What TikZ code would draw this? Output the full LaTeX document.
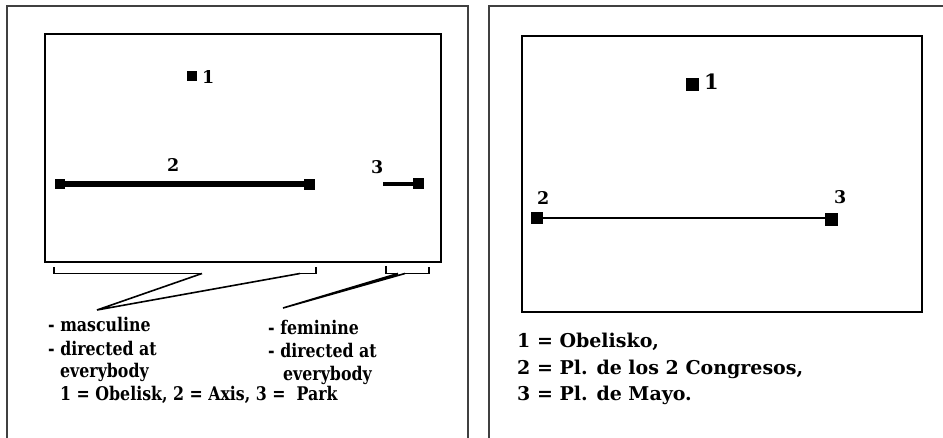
\documentclass[tikz,border=0pt]{standalone}
\usepackage{fontspec}
\setmainfont{DejaVu Serif}
\newfontfamily\narrowserif[FakeStretch=0.84]{DejaVu Serif}
\begin{document}
\begin{tikzpicture}[x=1pt,y=-1pt,
  frame/.style={draw=black!75,line width=1.1pt},
  mapbox/.style={draw=black,line width=2.8pt},
  sq/.style={fill=black,inner sep=0pt,minimum size=#1,shape=rectangle},
  txt/.style={anchor=base west,inner sep=0pt,font=\narrowserif\bfseries\fontsize{18.8}{22}\selectfont},
  rtxt/.style={anchor=base west,inner sep=0pt,font=\bfseries\fontsize{19}{22}\selectfont},
  lbl/.style={anchor=base west,inner sep=0pt,font=\bfseries\fontsize{17.5}{20}\selectfont},
  brk/.style={draw=black,line width=1.1pt},
  tail/.style={draw=black,line width=1.6pt}]
\useasboundingbox (0,0) rectangle (943,438);
\fill[white] (0,0) rectangle (943,438);
% outer frames
\draw[frame] (7,438) -- (7,6) -- (468,6) -- (468,438);
\draw[frame] (489,438) -- (489,6) -- (950,6);
% ---------- left panel ----------
\draw[mapbox] (45,34) rectangle (441,262);
\node[sq=10pt] (L1) at (192,76) {};
\node[lbl] (L1t) at (202,84) {1};
\node[sq=10.5pt] (L2a) at (60,184) {};
\node[sq=11pt] (L2b) at (309.5,184.5) {};
\draw[line width=5.5pt] (L2a.center) -- (L2a.center -| L2b.center);
\node[lbl] (L2t) at (167,172) {2};
\node[sq=11pt] (L3) at (418,184) {};
\coordinate (L3s) at (383,184);
\draw[line width=3.5pt] (L3s) -- (L3.center);
\node[lbl] (L3t) at (371,174) {3};
% brackets
\coordinate (bA1) at (54,267);
\coordinate (bA2) at (54,273.5);
\coordinate (bA3) at (202,273.5);
\coordinate (bA4) at (300,273.5);
\coordinate (bA5) at (316,273.5);
\coordinate (bA6) at (316,267);
\coordinate (tipA) at (97,310);
\draw[brk] (bA1) -- (bA2) -- (bA3);
\draw[brk] (bA4) -- (bA5) -- (bA6);
\draw[tail] (bA3) -- (tipA) -- (bA4);
\coordinate (bB1) at (386,266);
\coordinate (bB2) at (386,273.5);
\coordinate (bB3) at (398,273.5);
\coordinate (bB4) at (405,273.5);
\coordinate (bB5) at (429,273.5);
\coordinate (bB6) at (429,267);
\coordinate (tipB) at (283,308);
\draw[brk] (bB1) -- (bB2) -- (bB3);
\draw[brk] (bB4) -- (bB5) -- (bB6);
\draw[tail] (bB3) -- (tipB) -- (bB4);
% texts
\node[txt] (m1) at (48,332) {- masculine};
\node[txt] (m2) at (48,356) {- directed at};
\node[txt] (m3) at (60,378) {everybody};
\node[txt] (f1) at (268,335) {- feminine};
\node[txt] (f2) at (268,358) {- directed at};
\node[txt] (f3) at (283,381) {everybody};
\node[txt] (leg) at (60,401) {1 = Obelisk, 2 = Axis, 3 =\ \ Park};
% ---------- right panel ----------
\draw[mapbox] (522,36) rectangle (922,312);
\node[sq=13pt] (R1) at (692.5,85) {};
\node[anchor=base west,inner sep=0pt,font=\bfseries\fontsize{21}{24}\selectfont] (R1t) at (704,90) {1};
\node[sq=12.5pt] (R2) at (537,218) {};
\node[sq=13pt] (R3) at (831,219.5) {};
\draw[line width=1.6pt] (R2.center) -- (R2.center -| R3.center);
\node[lbl] (R2t) at (537,205) {2};
\node[lbl] (R3t) at (834,204) {3};
\node[rtxt] (r1) at (517,348) {1 = Obelisko,};
\node[rtxt] (r2) at (517,375) {2 = Pl. de los 2 Congresos,};
\node[rtxt] (r3) at (517,400) {3 = Pl. de Mayo.};
\end{tikzpicture}
\end{document}
